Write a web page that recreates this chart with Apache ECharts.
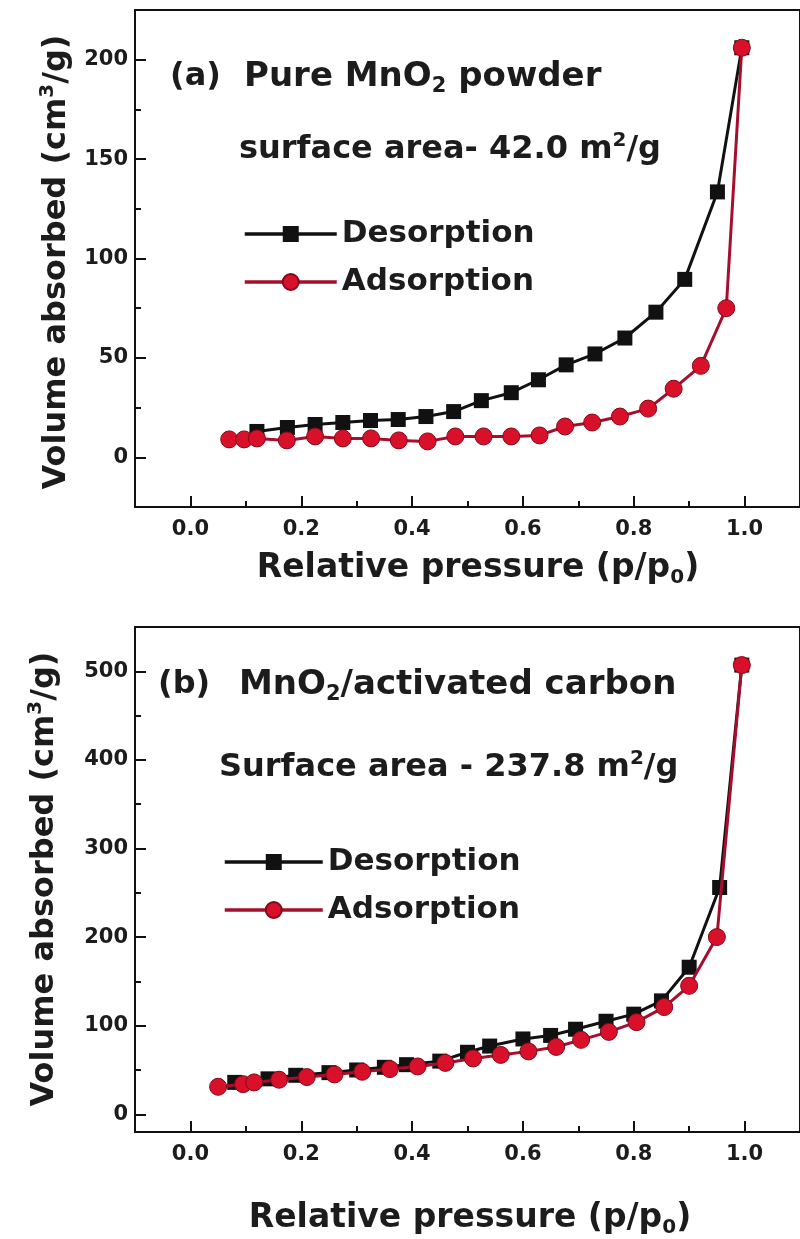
<!DOCTYPE html>
<html><head><meta charset="utf-8">
<script src="https://cdn.jsdelivr.net/npm/echarts@6/dist/echarts.min.js"></script>
<style>html,body{margin:0;padding:0;background:#fff}#c{width:800px;height:1239px}</style>
</head><body><div id="c"></div>
<script>
// ---------- data ----------
// Panel (a): Pure MnO2 powder
const aDesX = [0.12, 0.175, 0.225, 0.275, 0.325, 0.375, 0.425, 0.475, 0.525, 0.579, 0.628, 0.678, 0.73, 0.784, 0.84, 0.892, 0.951, 0.995];
const aDesY = [13, 15, 16.5, 17.5, 18.5, 19, 20.5, 23, 28.5, 32.5, 39, 46.5, 52, 60, 73, 89.5, 133.5, 206];
const aAdsX = [0.07, 0.097, 0.12, 0.174, 0.225, 0.275, 0.326, 0.376, 0.428, 0.478, 0.529, 0.579, 0.63, 0.676, 0.725, 0.775, 0.826, 0.872, 0.921, 0.967, 0.995];
const aAdsY = [9, 9, 9.5, 8.5, 10.5, 9.5, 9.5, 8.5, 8, 10.5, 10.5, 10.5, 11, 15.5, 17.5, 20.5, 24.5, 34.5, 46, 75, 206];
// Panel (b): MnO2/activated carbon
const bDesX = [0.08, 0.14, 0.19, 0.25, 0.30, 0.35, 0.39, 0.45, 0.50, 0.54, 0.60, 0.65, 0.695, 0.75, 0.80, 0.85, 0.90, 0.955, 0.995];
const bDesY = [36, 40, 44, 47, 50, 53, 56, 60, 70, 77, 85, 89, 96, 105, 113, 128, 166, 256, 507];
const bAdsX = [0.05, 0.095, 0.115, 0.16, 0.21, 0.26, 0.31, 0.36, 0.41, 0.46, 0.51, 0.56, 0.61, 0.66, 0.705, 0.755, 0.805, 0.855, 0.90, 0.95, 0.995];
const bAdsY = [31, 34, 36, 39, 42, 45, 48, 51, 54, 58, 63, 67, 71, 76, 84, 93, 104, 121, 145, 200, 507];
// Ticks
const xMajor = [0, 0.2, 0.4, 0.6, 0.8, 1.0];
const xMinor = [0.1, 0.3, 0.5, 0.7, 0.9];
const aYMajor = [0, 50, 100, 150, 200];
const aYMinor = [25, 75, 125, 175];
const bYMajor = [0, 100, 200, 300, 400, 500];
const bYMinor = [50, 150, 250, 350, 450];
const seriesNames = ['Desorption', 'Adsorption'];

// ---------- styling ----------
const FONT = '"DejaVu Sans", sans-serif';
const INK = '#1c1c1c';
const pair = (xs, ys) => xs.map((x, i) => [x, ys[i]]);

function xAxes(grid, min, max) {
  const base = {type: 'value', gridIndex: grid, min: min, max: max, position: 'bottom',
    splitLine: {show: false}};
  return [
    Object.assign({}, base, {
      axisLine: {show: true, onZero: false, lineStyle: {color: '#111', width: 2}},
      axisTick: {show: true, inside: true, length: 11, customValues: xMajor, lineStyle: {color: '#111', width: 2}},
      axisLabel: {show: true, customValues: xMajor, margin: 12, formatter: v => v.toFixed(1),
        fontFamily: FONT, fontWeight: 'bold', fontSize: 21, color: INK}
    }),
    Object.assign({}, base, {
      axisLine: {show: false, onZero: false},
      axisTick: {show: true, inside: true, length: 6, customValues: xMinor, lineStyle: {color: '#111', width: 2}},
      axisLabel: {show: false}
    })
  ];
}
function yAxes(grid, min, max, major, minor) {
  const base = {type: 'value', gridIndex: grid, min: min, max: max, position: 'left',
    splitLine: {show: false}};
  return [
    Object.assign({}, base, {
      axisLine: {show: true, onZero: false, lineStyle: {color: '#111', width: 2}},
      axisTick: {show: true, inside: true, length: 11, customValues: major, lineStyle: {color: '#111', width: 2}},
      axisLabel: {show: true, customValues: major, margin: 7, formatter: v => String(v),
        fontFamily: FONT, fontWeight: 'bold', fontSize: 21, color: INK}
    }),
    Object.assign({}, base, {
      axisLine: {show: false, onZero: false},
      axisTick: {show: true, inside: true, length: 6, customValues: minor, lineStyle: {color: '#111', width: 2}},
      axisLabel: {show: false}
    })
  ];
}
function desSeries(xi, yi, data) {
  return {type: 'line', name: seriesNames[0], xAxisIndex: xi, yAxisIndex: yi, data: data,
    symbol: 'rect', symbolSize: 15, showAllSymbol: true, z: 2,
    itemStyle: {color: '#111'}, lineStyle: {color: '#111', width: 3}};
}
function adsSeries(xi, yi, data) {
  return {type: 'line', name: seriesNames[1], xAxisIndex: xi, yAxisIndex: yi, data: data,
    symbol: 'circle', symbolSize: 17, showAllSymbol: true, z: 3,
    itemStyle: {color: '#d8102a', borderColor: '#800a1a', borderWidth: 1},
    lineStyle: {color: '#a50f2d', width: 3}};
}
function txt(x, y, text, size, align, rotation) {
  const sub = {fontFamily: FONT, fontWeight: 'bold', fill: INK, fontSize: Math.round(size * 0.62),
    lineHeight: Math.round(size * 0.5), verticalAlign: 'bottom'};
  const sup = Object.assign({}, sub, {verticalAlign: 'top'});
  return {type: 'text', x: x, y: y, rotation: rotation || 0, z: 10,
    style: {text: text, fontFamily: FONT, fontWeight: 'bold', fontSize: size, fill: INK,
      lineHeight: Math.round(size * 1.2),
      textAlign: align || 'left', textVerticalAlign: 'middle', rich: {sub: sub, sup: sup}}};
}
function legend(left, top, w) {
  return {show: true, orient: 'vertical', left: left, top: top, padding: 0, itemGap: 12,
    itemWidth: w, itemHeight: 20, selectedMode: false, data: seriesNames,
    lineStyle: {width: 3.5},
    textStyle: {fontFamily: FONT, fontWeight: 'bold', fontSize: 31, color: INK, lineHeight: 36}};
}

const chart = echarts.init(document.getElementById('c'), null, {renderer: 'canvas'});
chart.setOption({
  animation: false,
  backgroundColor: '#fff',
  grid: [
    {left: 135, top: 10, width: 668, height: 497, show: true, borderColor: '#111', borderWidth: 2, backgroundColor: 'transparent'},
    {left: 135, top: 627, width: 668, height: 505, show: true, borderColor: '#111', borderWidth: 2, backgroundColor: 'transparent'}
  ],
  xAxis: [].concat(xAxes(0, -0.1, 1.1), xAxes(1, -0.1, 1.1)),
  yAxis: [].concat(yAxes(0, -25, 225, aYMajor, aYMinor), yAxes(1, -20, 550, bYMajor, bYMinor)),
  legend: [legend(243, 216, 92), legend(223, 844, 98)],
  series: [
    desSeries(0, 0, pair(aDesX, aDesY)),
    adsSeries(0, 0, pair(aAdsX, aAdsY)),
    desSeries(2, 2, pair(bDesX, bDesY)),
    adsSeries(2, 2, pair(bAdsX, bAdsY))
  ],
  graphic: [
    txt(170, 77, '(a)', 32),
    txt(244, 77, 'Pure MnO{sub|2} powder', 34),
    txt(239, 150, 'surface area- 42.0 m{sup|2}/g', 32),
    txt(478, 568, 'Relative pressure (p/p{sub|0})', 33, 'center'),
    txt(57, 262, 'Volume absorbed (cm{sup|3}/g)', 32, 'center', Math.PI / 2),
    txt(158, 685, '(b)', 32),
    txt(239, 685, 'MnO{sub|2}/activated carbon', 34),
    txt(219, 768, 'Surface area - 237.8 m{sup|2}/g', 32),
    txt(470, 1218, 'Relative pressure (p/p{sub|0})', 33, 'center'),
    txt(45, 879, 'Volume absorbed (cm{sup|3}/g)', 32, 'center', Math.PI / 2)
  ]
});
</script>
</body></html>
